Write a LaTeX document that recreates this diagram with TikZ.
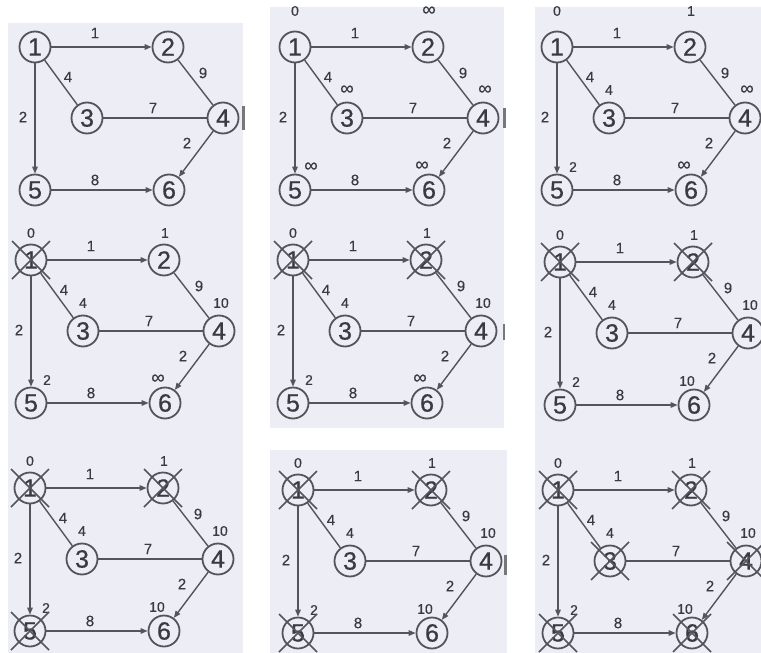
\documentclass[tikz,border=0pt]{standalone}
\usepackage{fontspec}
\setmainfont{Liberation Sans}
\newfontfamily\heavyfont{Liberation Sans}[FakeBold=0.7]
\newfontfamily\midfont{Liberation Sans}[FakeBold=0.4]
\usetikzlibrary{arrows.meta}
\definecolor{panelbg}{RGB}{237,237,245}
\definecolor{ink}{RGB}{84,84,90}
\definecolor{txt}{RGB}{58,58,64}
\tikzset{
 vtx/.style={circle,draw=ink,line width=1.8pt,minimum size=31pt,inner sep=0pt,text=txt,font=\heavyfont\fontsize{25}{25}\selectfont},
 edge/.style={draw=ink,line width=1.4pt},
 arr/.style={-{Triangle[length=7pt,width=5.5pt]}},
 wlab/.style={text=txt,font=\midfont\fontsize{15}{15}\selectfont,inner sep=0pt},
 dlab/.style={text=txt,font=\midfont\fontsize{14}{14}\selectfont,inner sep=0pt},
 xmark/.style={draw=ink,line width=1.5pt},
 panelrect/.style={fill=panelbg,draw=none},
 scanbar/.style={fill=ink!80,draw=none},
}
\newcommand\inft{\fontsize{19}{19}\selectfont ∞}
\newcommand\toplab{-28}
\newcommand\graphpanel[8]{%
 \begin{scope}[shift={(#2)}]
  \node[vtx] (#1-1) at (0,0) {1};
  \node[vtx] (#1-2) at (133,0) {2};
  \node[vtx] (#1-3) at (52,71) {3};
  \node[vtx] (#1-4) at (188,71) {4};
  \node[vtx] (#1-5) at (0,143) {5};
  \node[vtx] (#1-6) at (134,143) {6};
  \draw[edge,arr] (#1-1) -- (#1-2);
  \draw[edge] (#1-1) -- (#1-3);
  \draw[edge] (#1-3) -- (#1-4);
  \draw[edge] (#1-2) -- (#1-4);
  \draw[edge,arr] (#1-1) -- (#1-5);
  \draw[edge,arr] (#1-5) -- (#1-6);
  \draw[edge,arr] (#1-4) -- (#1-6);
  \node[wlab] (#1-w12) at (60,-14) {1};
  \node[wlab] (#1-w13) at (33,30) {4};
  \node[wlab] (#1-w15) at (-12,70) {2};
  \node[wlab] (#1-w34) at (118,61) {7};
  \node[wlab] (#1-w24) at (168,26) {9};
  \node[wlab] (#1-w46) at (152,96) {2};
  \node[wlab] (#1-w56) at (60,133) {8};
  \node[dlab] (#1-d1) at (0,\toplab) {#3};
  \node[dlab] (#1-d2) at (134,\toplab) {#4};
  \node[dlab] (#1-d3) at (52,43) {#5};
  \node[dlab] (#1-d4) at (190,43) {#6};
  \node[dlab] (#1-d5) at (16,120) {#7};
  \node[dlab] (#1-d6) at (127,119) {#8};
 \end{scope}}
\newcommand\crossout[1]{%
 \draw[xmark] ([shift={(-19,-19)}]#1.center) -- ([shift={(19,19)}]#1.center);
 \draw[xmark] ([shift={(19,-19)}]#1.center) -- ([shift={(-19,19)}]#1.center);}
\begin{document}
\begin{tikzpicture}[x=1pt,y=-1pt]
\useasboundingbox[fill=white] (0,0) rectangle (761,653);
\fill[panelrect] (8,23) rectangle (243,653);
\fill[panelrect] (270,7) rectangle (504,428);
\fill[panelrect] (270,450) rectangle (507,653);
\fill[panelrect] (535,7) rectangle (761,653);
\fill[scanbar] (242,106) rectangle (245,130);
\fill[scanbar] (503,108) rectangle (506,128);
\fill[scanbar] (503,324) rectangle (505,340);
\fill[scanbar] (504,555) rectangle (507,575);
% row 1
\graphpanel{pa}{35,47}{}{}{}{}{}{}
\renewcommand\toplab{-36}
\graphpanel{pb}{295,47}{0}{\inft}{\inft}{\inft}{\inft}{\inft}
\graphpanel{pc}{557,47}{0}{1}{4}{\inft}{2}{\inft}
\renewcommand\toplab{-27}
% row 2
\graphpanel{pd}{31,260}{0}{1}{4}{10}{2}{\inft}
\graphpanel{pe}{293,260}{0}{1}{4}{10}{2}{\inft}
\graphpanel{pf}{560,262}{0}{1}{4}{10}{2}{10}
% row 3
\graphpanel{pg}{30,488}{0}{1}{4}{10}{2}{10}
\graphpanel{ph}{298,490}{0}{1}{4}{10}{2}{10}
\graphpanel{pi}{558,490}{0}{1}{4}{10}{2}{10}
\crossout{pd-1}
\crossout{pe-1}\crossout{pe-2}
\crossout{pf-1}\crossout{pf-2}
\crossout{pg-1}\crossout{pg-2}\crossout{pg-5}
\crossout{ph-1}\crossout{ph-2}\crossout{ph-5}
\crossout{pi-1}\crossout{pi-2}\crossout{pi-3}\crossout{pi-4}\crossout{pi-5}\crossout{pi-6}
\end{tikzpicture}
\end{document}
